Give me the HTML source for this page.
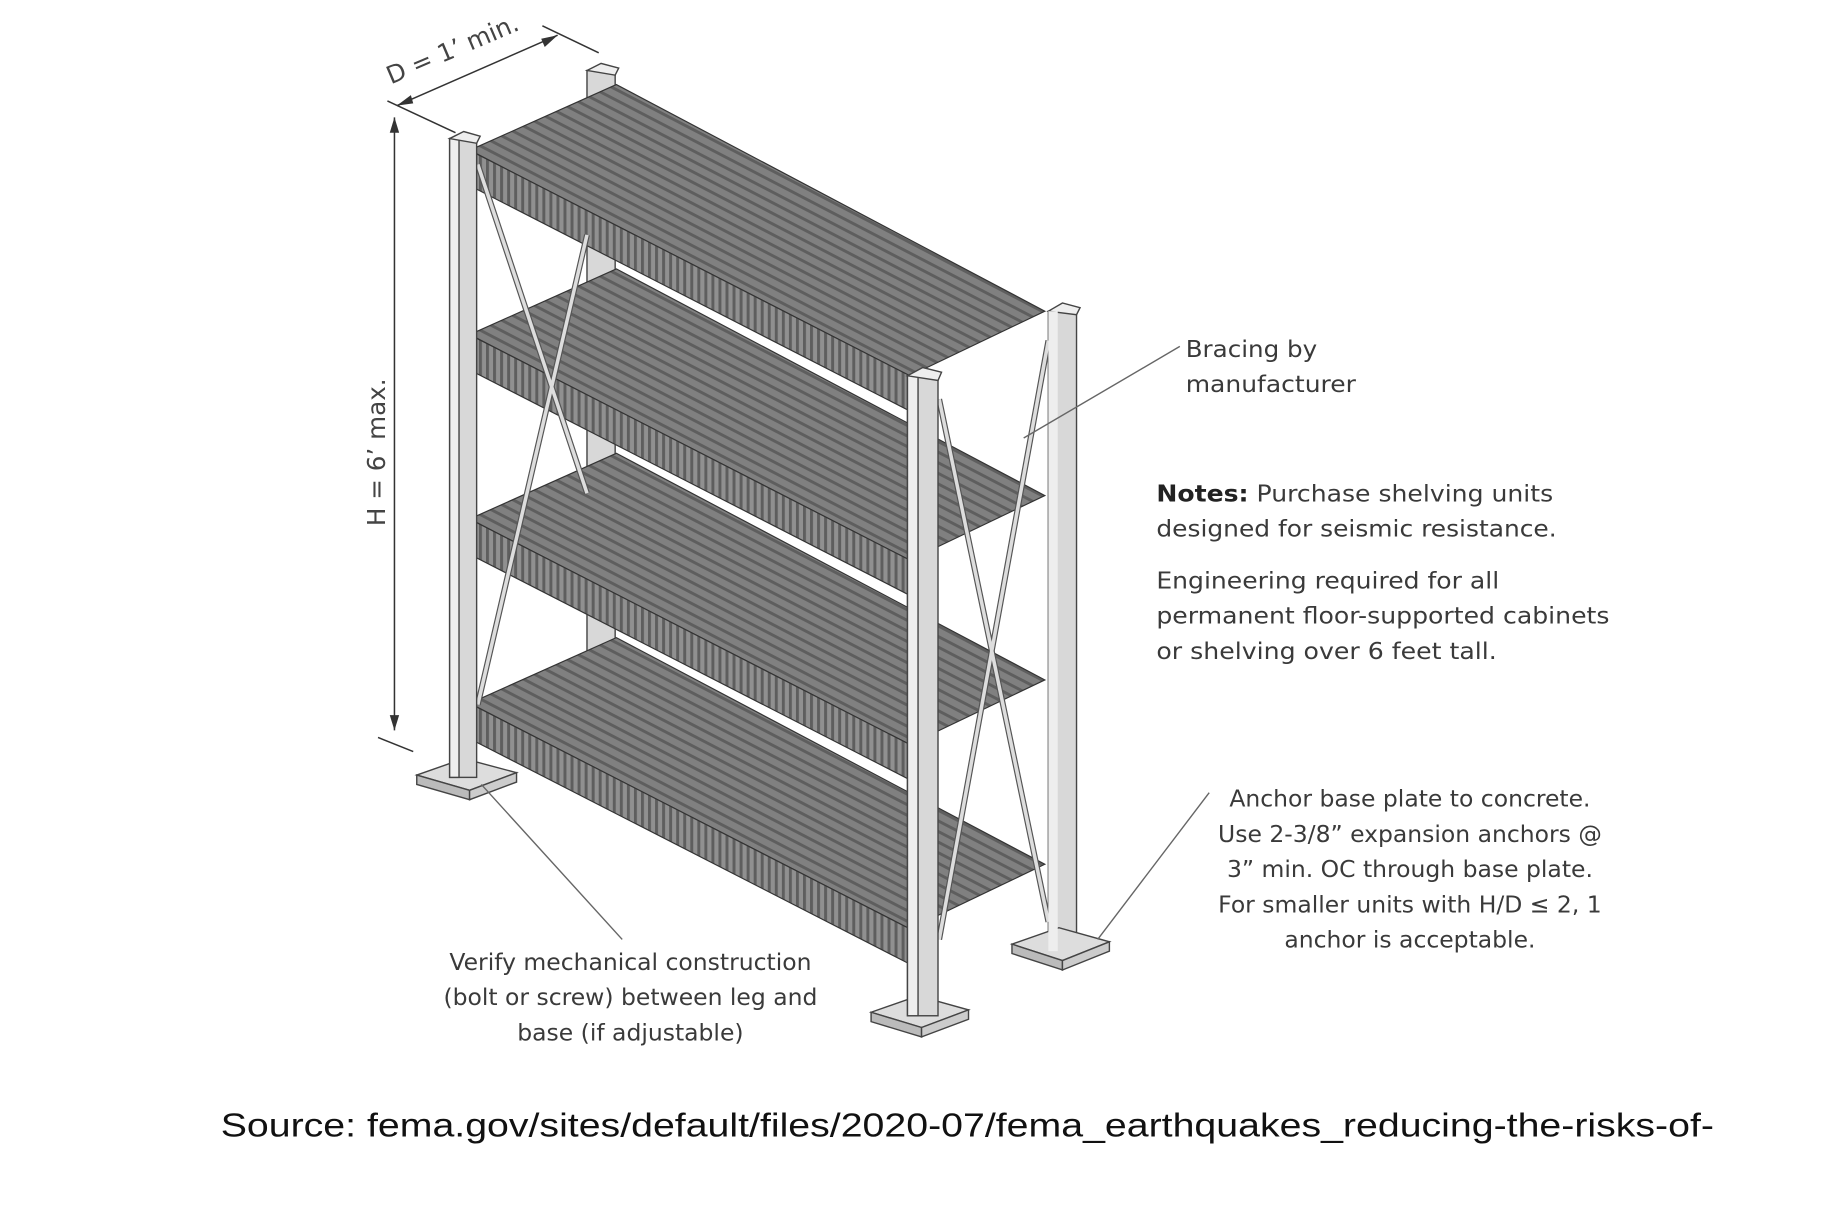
<!DOCTYPE html>
<html><head><meta charset="utf-8"><style>
html,body{margin:0;padding:0;background:#fff;}
svg{display:block;}
</style></head><body>
<svg width="1822" height="1206" viewBox="0 0 1552 1027" preserveAspectRatio="none" xmlns="http://www.w3.org/2000/svg">
<defs>
<pattern id="slatTop" patternUnits="userSpaceOnUse" width="8" height="8" patternTransform="rotate(27.5)">
<rect width="8" height="8" fill="#808080"/><rect width="8" height="2.5" fill="#5e5e5e"/>
</pattern>
<pattern id="slatFront" patternUnits="userSpaceOnUse" width="6" height="6">
<rect width="6" height="6" fill="#909090"/><rect width="2.5" height="6" fill="#5e5e5e"/>
</pattern>
</defs>
<rect width="1552" height="1027" fill="#fff"/>
<g stroke="#444" stroke-width="1.2">
<rect x="500" y="60" width="24" height="500" fill="#d8d8d8"/>
<polygon points="500,60 512,54 527,58 524,64" fill="#eee"/>
<rect x="893" y="265" width="24" height="548" fill="#d8d8d8"/>
<polygon points="893,265 905,258 920,262 917,268" fill="#eee"/>
<polygon points="862,804 902,790 945,802 905,818" fill="#ddd"/>
<polygon points="862,804 905,818 905,826 862,812" fill="#bbb"/>
<polygon points="905,818 945,802 945,810 905,826" fill="#ccc"/>
</g>
<g stroke="#333" stroke-width="1">
<g>
<polygon points="400,128 525,72 890,265 775,320" fill="url(#slatTop)"/>
<polygon points="400,128 775,320 775,350 400,158" fill="url(#slatFront)"/>
</g>
<g transform="translate(0,157)">
<polygon points="400,128 525,72 890,265 775,320" fill="url(#slatTop)"/>
<polygon points="400,128 775,320 775,350 400,158" fill="url(#slatFront)"/>
</g>
<g transform="translate(0,314)">
<polygon points="400,128 525,72 890,265 775,320" fill="url(#slatTop)"/>
<polygon points="400,128 775,320 775,350 400,158" fill="url(#slatFront)"/>
</g>
<g transform="translate(0,471)">
<polygon points="400,128 525,72 890,265 775,320" fill="url(#slatTop)"/>
<polygon points="400,128 775,320 775,350 400,158" fill="url(#slatFront)"/>
</g>
</g>
<g stroke="#555" stroke-width="5">
<line x1="407" y1="140" x2="500" y2="420"/>
<line x1="500" y1="200" x2="407" y2="600"/>
<line x1="800" y1="340" x2="893" y2="785"/>
<line x1="893" y1="290" x2="800" y2="800"/>
</g>
<g stroke="#ddd" stroke-width="3">
<line x1="407" y1="140" x2="500" y2="420"/>
<line x1="500" y1="200" x2="407" y2="600"/>
<line x1="800" y1="340" x2="893" y2="785"/>
<line x1="893" y1="290" x2="800" y2="800"/>
</g>
<g stroke="#444" stroke-width="1.2">
<polygon points="355,660 395,646 440,658 400,673" fill="#ddd"/>
<polygon points="355,660 400,673 400,681 355,668" fill="#bbb"/>
<polygon points="400,673 440,658 440,666 400,681" fill="#ccc"/>
<rect x="383" y="118" width="23" height="544" fill="#d8d8d8"/>
<rect x="383" y="118" width="8" height="544" fill="#eee"/>
<polygon points="383,118 395,112 409,116 406,122" fill="#eee"/>
<polygon points="742,862 782,848 825,860 785,875" fill="#ddd"/>
<polygon points="742,862 785,875 785,883 742,870" fill="#bbb"/>
<polygon points="785,875 825,860 825,868 785,883" fill="#ccc"/>
<rect x="773" y="320" width="26" height="545" fill="#d8d8d8"/>
<rect x="773" y="320" width="9" height="545" fill="#eee"/>
<polygon points="773,320 786,313 802,317 799,324" fill="#eee"/>
<rect x="893" y="265" width="8" height="545" fill="#eee" stroke="none"/>
</g>
<g stroke="#333" stroke-width="1.3" fill="none">
<line x1="338" y1="90" x2="475" y2="30"/>
<line x1="330" y1="86" x2="388" y2="113"/>
<line x1="462" y1="22" x2="510" y2="45"/>
<line x1="336" y1="100" x2="336" y2="622"/>
<line x1="322" y1="628" x2="352" y2="640"/>
</g>
<g fill="#333">
<polygon points="338,90 350,81 352,88"/>
<polygon points="475,30 461,33 464,40"/>
<polygon points="336,100 332,113 340,113"/>
<polygon points="336,622 332,609 340,609"/>
</g>
<g font-family="'DejaVu Sans','Liberation Sans',sans-serif" fill="#444" font-size="21">
<text x="0" y="0" transform="translate(333,72) rotate(-23)">D = 1’ min.</text>
<text x="0" y="0" transform="translate(328,448) rotate(-90)">H = 6’ max.</text>
</g>
<g stroke="#666" stroke-width="1.2">
<line x1="1005" y1="295" x2="872" y2="373"/>
<line x1="410" y1="668" x2="530" y2="800"/>
<line x1="1030" y1="675" x2="935" y2="800"/>
</g>
<g font-family="'DejaVu Sans','Liberation Sans',sans-serif" fill="#3a3a3a" font-size="20">
<text x="1010" y="304" textLength="112" lengthAdjust="spacingAndGlyphs">Bracing by</text>
<text x="1010" y="334" textLength="145" lengthAdjust="spacingAndGlyphs">manufacturer</text>
<text x="985" y="427" textLength="338" lengthAdjust="spacingAndGlyphs"><tspan font-weight="bold" fill="#222">Notes:</tspan> Purchase shelving units</text>
<text x="985" y="457" textLength="341" lengthAdjust="spacingAndGlyphs">designed for seismic resistance.</text>
<text x="985" y="501" textLength="292" lengthAdjust="spacingAndGlyphs">Engineering required for all</text>
<text x="985" y="531" textLength="386" lengthAdjust="spacingAndGlyphs">permanent floor-supported cabinets</text>
<text x="985" y="561" textLength="290" lengthAdjust="spacingAndGlyphs">or shelving over 6 feet tall.</text>
<g text-anchor="middle">
<text x="1201" y="687">Anchor base plate to concrete.</text>
<text x="1201" y="717">Use 2-3/8” expansion anchors @</text>
<text x="1201" y="747">3” min. OC through base plate.</text>
<text x="1201" y="777">For smaller units with H/D ≤ 2, 1</text>
<text x="1201" y="807">anchor is acceptable.</text>
<text x="537" y="826">Verify mechanical construction</text>
<text x="537" y="856">(bolt or screw) between leg and</text>
<text x="537" y="886">base (if adjustable)</text>
</g>
</g>
<text x="188" y="968" font-family="'Liberation Sans',sans-serif" font-size="28" fill="#111" textLength="1272" lengthAdjust="spacingAndGlyphs">Source: fema.gov/sites/default/files/2020-07/fema_earthquakes_reducing-the-risks-of-</text>
</svg>
</body></html>
